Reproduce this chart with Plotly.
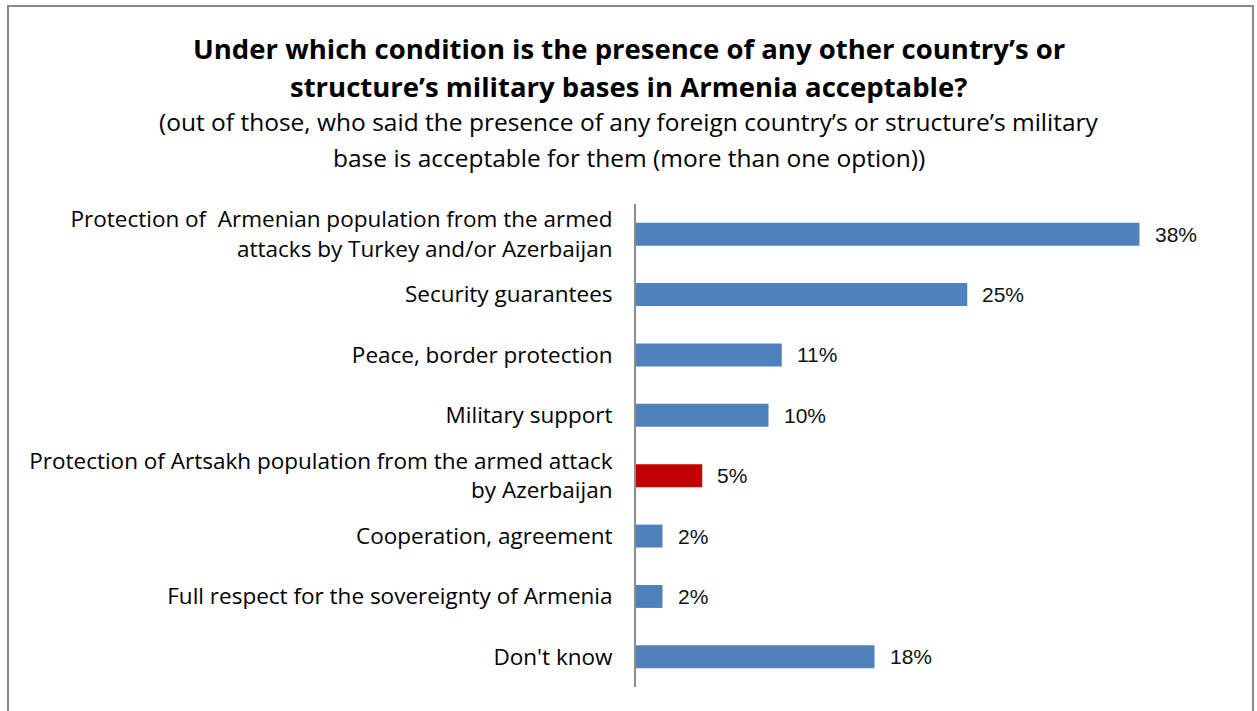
import plotly.graph_objects as go

# Survey answers, listed top to bottom
categories = [
    "Protection of  Armenian population from the armed<br>attacks by Turkey and/or Azerbaijan",
    "Security guarantees",
    "Peace, border protection",
    "Military support",
    "Protection of Artsakh population from the armed attack<br>by Azerbaijan",
    "Cooperation, agreement",
    "Full respect for the sovereignty of Armenia",
    "Don't know",
]
values = [38, 25, 11, 10, 5, 2, 2, 18]
value_labels = ["38%", "25%", "11%", "10%", "5%", "2%", "2%", "18%"]
highlight = "Protection of Artsakh population from the armed attack<br>by Azerbaijan"

BLUE = "#4F81BD"
RED = "#C00000"
colors = [RED if c == highlight else BLUE for c in categories]

W, H = 1257, 711
M_L, M_R, M_T, M_B = 636, 57, 204, 24
PX_PER_PCT = 13.25
x_max = (W - M_L - M_R) / PX_PER_PCT

TEXT_FONT = "Open Sans"
NUM_FONT = "Liberation Sans"

fig = go.Figure(
    go.Bar(
        x=values,
        y=categories,
        orientation="h",
        marker=dict(color=colors, line=dict(width=0)),
        width=0.38,
        hoverinfo="skip",
    )
)

# Value labels just past the end of each bar
for cat, v, lab in zip(categories, values, value_labels):
    fig.add_annotation(
        x=v, y=cat, xref="x", yref="y",
        text=lab, showarrow=False,
        xanchor="left", yanchor="middle", xshift=13,
        font=dict(family=NUM_FONT, size=21, color="#111111"),
    )

def py(pixel_y):
    """Convert a page pixel row into paper y coordinates."""
    return (H - M_B - pixel_y) / (H - M_T - M_B)

def px(pixel_x):
    return (pixel_x - M_L) / (W - M_L - M_R)

center_x = px(W / 2)

title_lines = [
    ("<b>Under which condition is the presence of any other country\u2019s or</b>", 48, 27.5),
    ("<b>structure\u2019s military bases in Armenia acceptable?</b>", 86, 27.5),
    ("(out of those, who said the presence of any foreign country\u2019s or structure\u2019s military", 122, 24.5),
    ("base is acceptable for them (more than one option))", 157, 24.5),
]
for txt, yy, sz in title_lines:
    fig.add_annotation(
        x=center_x, y=py(yy), xref="paper", yref="paper",
        text=txt, showarrow=False, xanchor="center", yanchor="middle",
        font=dict(family=TEXT_FONT, size=sz, color="#000000"),
    )

# Outer frame of the chart
fig.add_shape(
    type="rect", xref="paper", yref="paper",
    x0=px(8), x1=px(1253), y0=py(730), y1=py(6),
    line=dict(color="#888888", width=2), fillcolor="rgba(0,0,0,0)",
    layer="below",
)

fig.update_layout(
    width=W, height=H,
    margin=dict(l=M_L, r=M_R, t=M_T, b=M_B, pad=0),
    paper_bgcolor="white", plot_bgcolor="white",
    showlegend=False,
    bargap=0.62,
    xaxis=dict(
        range=[0, x_max], visible=False, fixedrange=True,
    ),
    yaxis=dict(
        autorange="reversed",
        showline=True, linecolor="#8C8C8C", linewidth=2,
        showgrid=False, zeroline=False, ticks="",
        ticklabelstandoff=17,
        tickfont=dict(family=TEXT_FONT, size=22.5, color="#000000"),
        fixedrange=True,
    ),
)

fig.write_html("out.html")
